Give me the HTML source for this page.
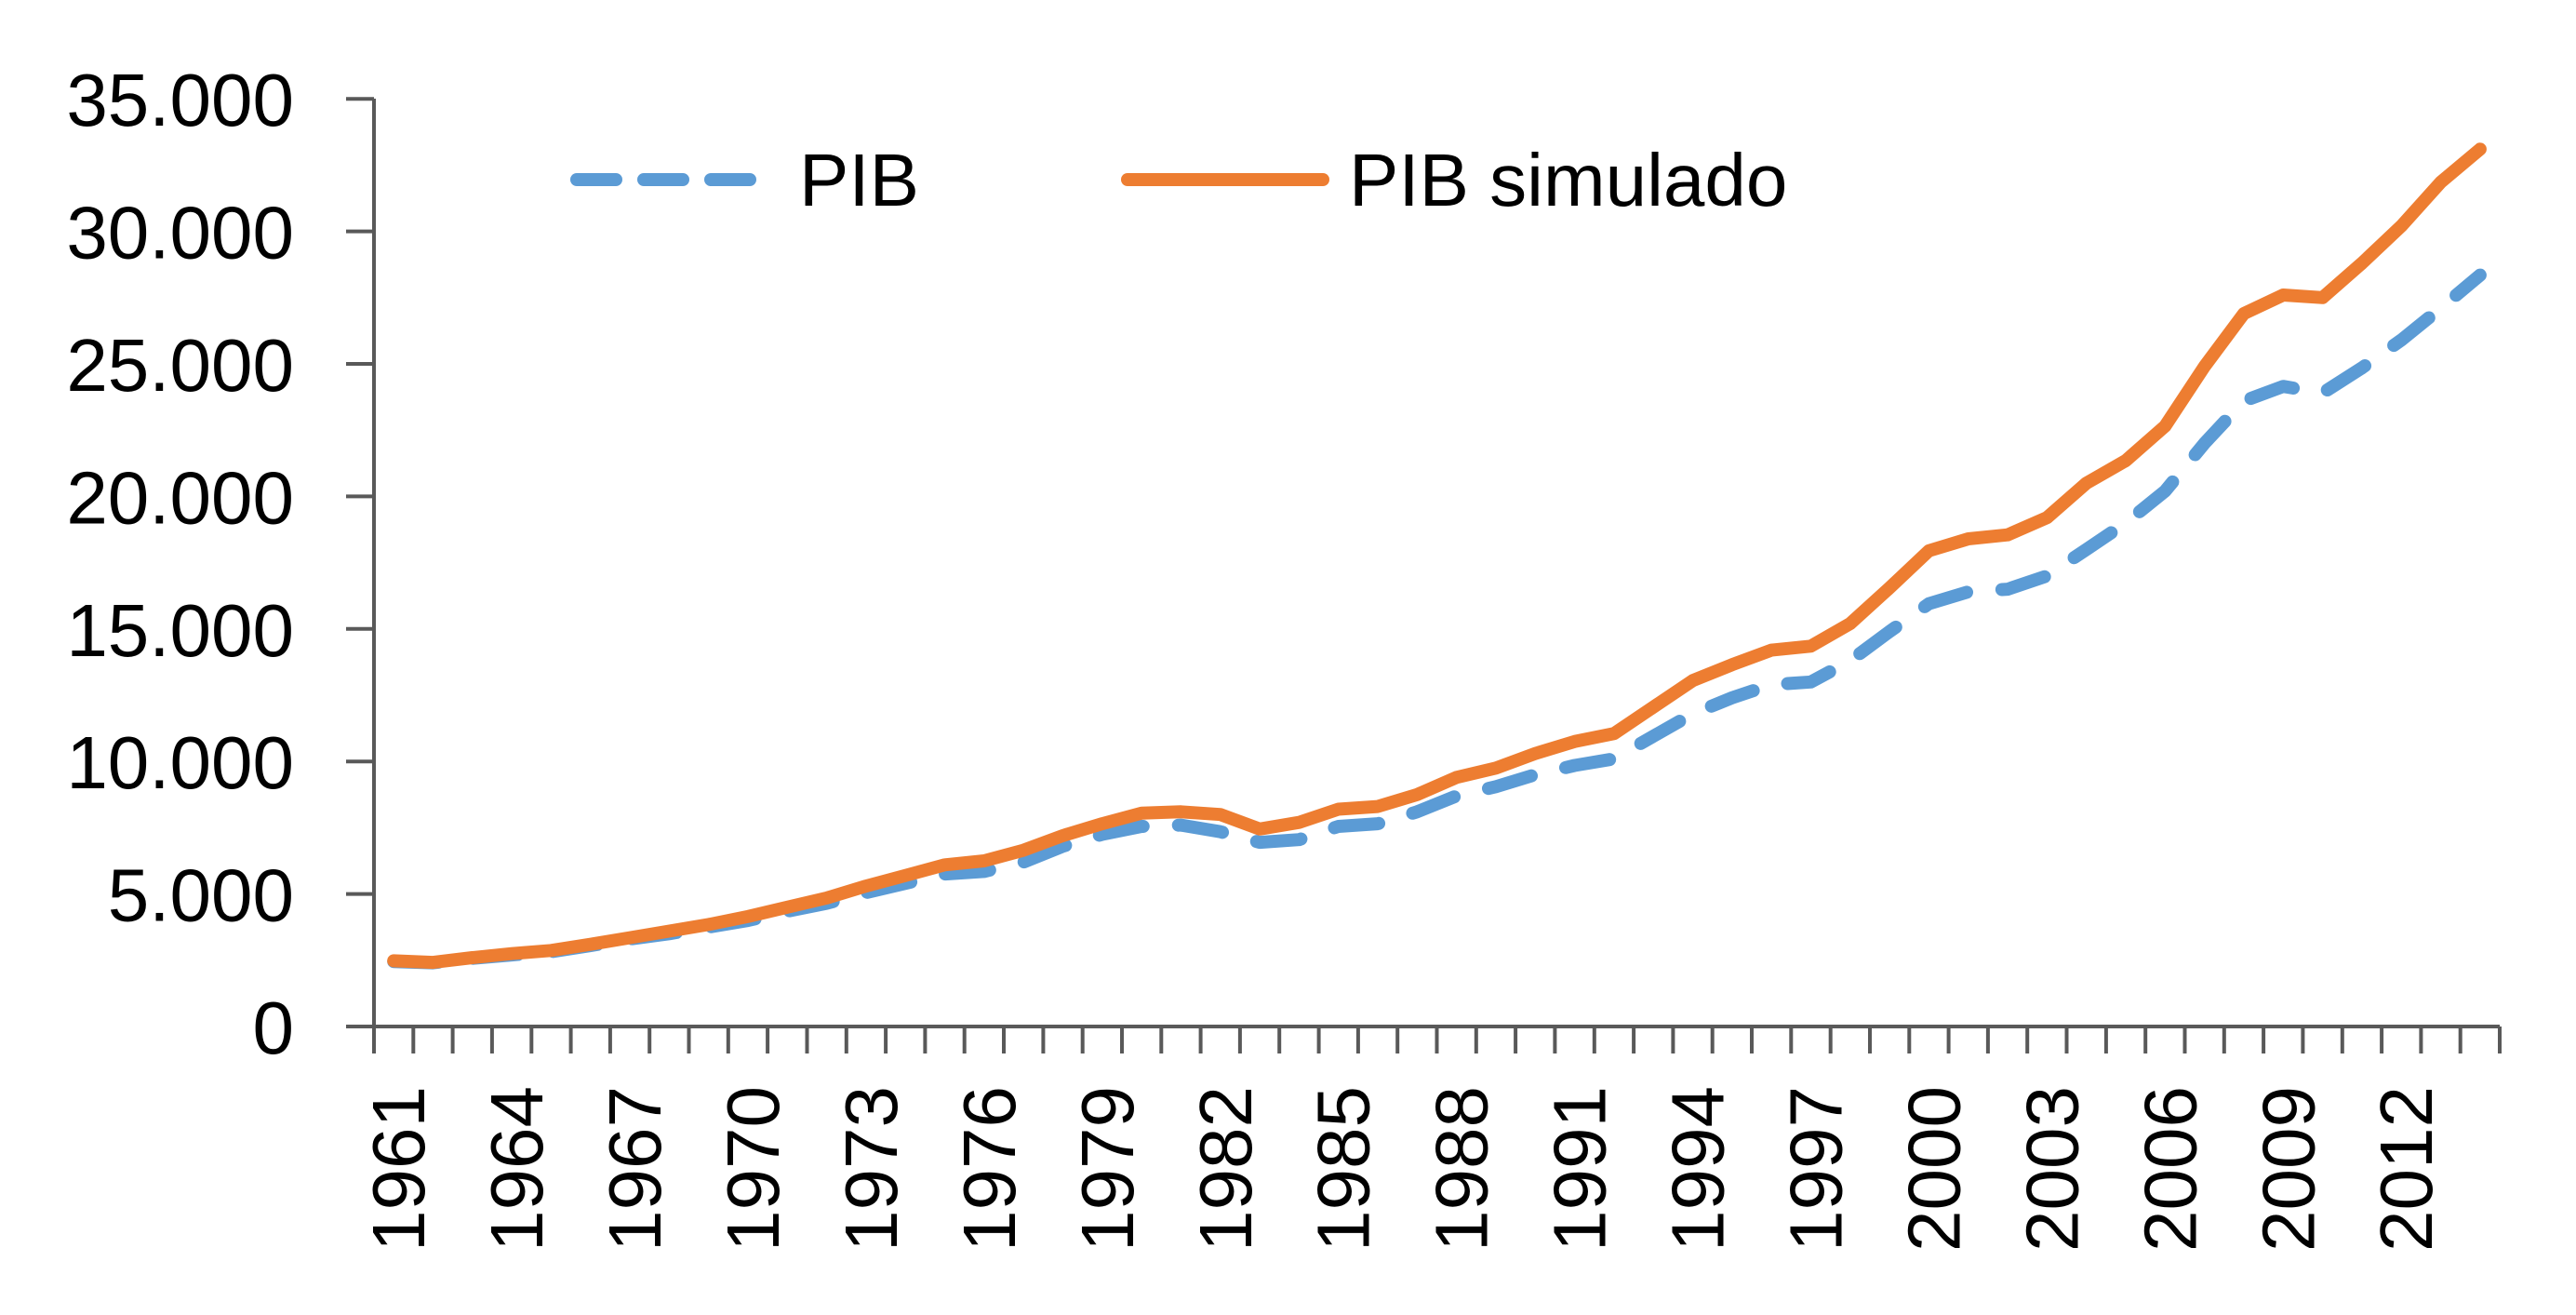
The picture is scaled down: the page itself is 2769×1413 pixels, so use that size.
<!DOCTYPE html>
<html><head><meta charset="utf-8"><style>
html,body{margin:0;padding:0;background:#fff;}
svg{display:block;}
text{font-family:"Liberation Sans",sans-serif;font-size:80px;fill:#000;}
</style></head><body>
<svg id="c" width="2769" height="1413" viewBox="0 0 2769 1413" xmlns="http://www.w3.org/2000/svg">
<g id="axes" stroke="#595959" stroke-width="4" fill="none"></g>
<g id="labels"></g>
<path id="pib" fill="none" stroke="#5B9BD5" stroke-width="14" stroke-linecap="round" stroke-linejoin="round" stroke-dasharray="48 38"/>
<path id="sim" fill="none" stroke="#ED7D31" stroke-width="14" stroke-linecap="round" stroke-linejoin="round"/>
<line x1="620" y1="193" x2="810" y2="193" stroke="#5B9BD5" stroke-width="14" stroke-linecap="round" stroke-dasharray="42 30"/>
<line x1="1212" y1="193" x2="1422" y2="193" stroke="#ED7D31" stroke-width="14" stroke-linecap="round"/>
<text x="859" y="221">PIB</text>
<text x="1450" y="221">PIB simulado</text>
</svg>
<script>
var X0=402,Y0=1103,W=42.315,PX=142.4/5;
var sim=[2.48,2.42,2.6,2.75,2.87,3.1,3.35,3.6,3.85,4.15,4.5,4.85,5.3,5.7,6.1,6.25,6.65,7.2,7.65,8.05,8.1,8.0,7.45,7.7,8.2,8.3,8.75,9.4,9.75,10.3,10.75,11.05,12.05,13.05,13.65,14.2,14.35,15.2,16.55,17.95,18.4,18.55,19.2,20.5,21.35,22.65,24.9,26.9,27.6,27.5,28.8,30.2,31.85,33.1];
var pib=[2.45,2.4,2.57,2.7,2.82,3.05,3.3,3.5,3.75,4.0,4.35,4.65,5.05,5.4,5.75,5.85,6.2,6.8,7.25,7.55,7.6,7.35,6.95,7.05,7.55,7.65,8.1,8.7,9.05,9.5,9.85,10.1,10.95,11.8,12.4,12.9,13.0,13.8,14.9,15.95,16.4,16.5,17.0,18.0,19.0,20.2,22.0,23.6,24.15,23.9,24.85,25.9,27.1,28.35];
function path(a){return a.map(function(v,i){return (i?'L':'M')+(X0+W*(i+0.5)).toFixed(1)+' '+(Y0-v*PX).toFixed(1);}).join(' ');}
document.getElementById('sim').setAttribute('d',path(sim));
document.getElementById('pib').setAttribute('d',path(pib));
var ax='M'+X0+' 106 L'+X0+' '+Y0+' L'+(X0+W*54)+' '+Y0;
for(var k=0;k<=7;k++){var y=Y0-k*142.4;ax+=' M372 '+y.toFixed(1)+' L'+X0+' '+y.toFixed(1);}
for(var k=0;k<=54;k++){var x=X0+W*k;ax+=' M'+x.toFixed(1)+' '+Y0+' L'+x.toFixed(1)+' 1132';}
var g=document.getElementById('axes');
var p=document.createElementNS('http://www.w3.org/2000/svg','path');p.setAttribute('d',ax);g.appendChild(p);
var L=document.getElementById('labels'),h='';
var yl=['0','5.000','10.000','15.000','20.000','25.000','30.000','35.000'];
for(var k=0;k<=7;k++){h+='<text x="316" y="'+(Y0-k*142.4+29).toFixed(1)+'" text-anchor="end">'+yl[k]+'</text>';}
for(var i=0;i<54;i+=3){var cx=X0+W*(i+0.5)+33;h+='<text transform="translate('+cx.toFixed(1)+',1167) rotate(-90)" text-anchor="end">'+(1961+i)+'</text>';}
L.innerHTML=h;
</script>
</body></html>
